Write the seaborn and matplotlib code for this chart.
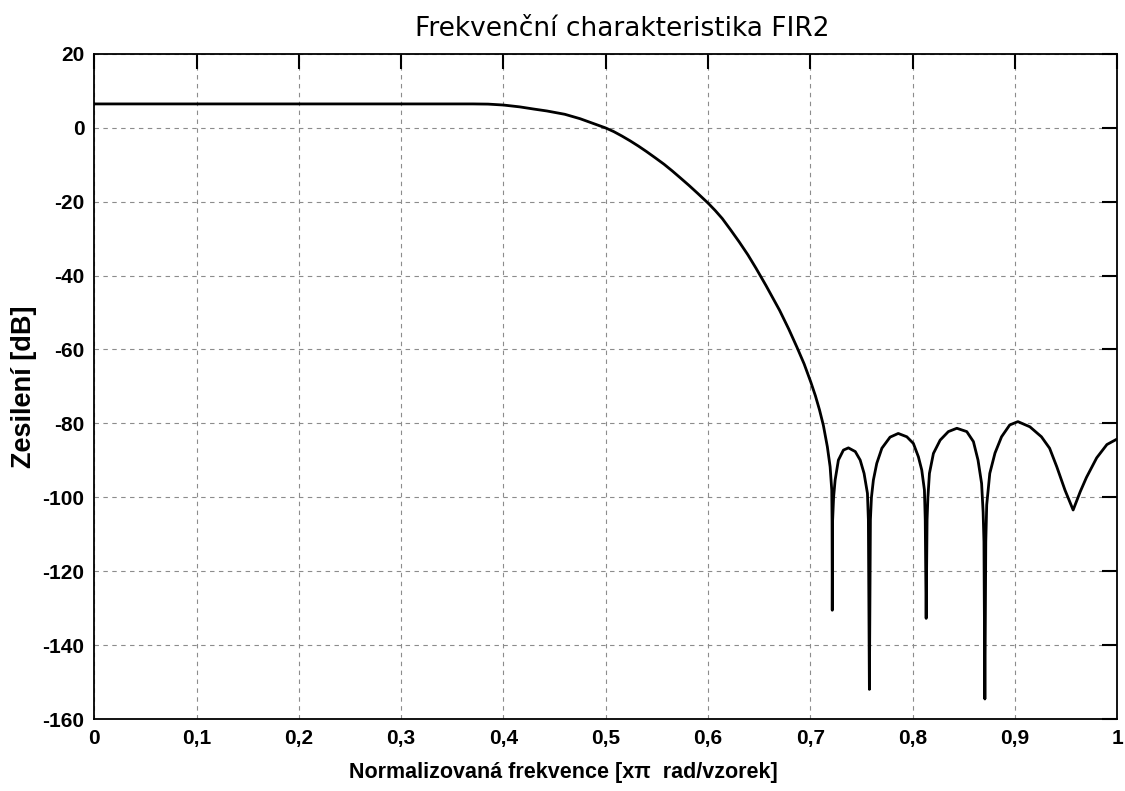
import pandas as pd
import seaborn as sns
import matplotlib.pyplot as plt

# frequency response (normalized freq, gain in dB)
freq = [0.0, 0.1, 0.2, 0.3, 0.37, 0.385, 0.40, 0.416, 0.43, 0.4424,
        0.46, 0.475, 0.483, 0.49, 0.5, 0.508, 0.516, 0.524, 0.532, 0.54,
        0.5486, 0.557, 0.565, 0.573, 0.5813, 0.59, 0.6, 0.607, 0.614, 0.622,
        0.6305, 0.639, 0.6469, 0.6567, 0.670, 0.679, 0.687, 0.694, 0.7005, 0.705,
        0.709, 0.7128, 0.7167, 0.7194, 0.721, 0.7213,
        0.7215, 0.7218, 0.7228, 0.7243, 0.7275, 0.7324, 0.7373, 0.744, 0.7488, 0.7526,
        0.7559, 0.7568, 0.7578, 0.7588, 0.7598, 0.7617, 0.765, 0.770, 0.778, 0.786,
        0.7944, 0.8008, 0.8057, 0.809, 0.8116, 0.8124, 0.8133, 0.8142, 0.815, 0.8165,
        0.8204, 0.827, 0.835, 0.8433, 0.853, 0.8595, 0.864, 0.8675, 0.869, 0.8698,
        0.8707, 0.8716, 0.8725, 0.8755, 0.8806, 0.887, 0.895, 0.903, 0.9147, 0.926,
        0.934, 0.941, 0.949, 0.957, 0.964, 0.970, 0.980, 0.990, 1.0]
gain_db = [6.4, 6.4, 6.4, 6.4, 6.4, 6.35, 6.1, 5.6, 5.0, 4.5,
           3.6, 2.4, 1.6, 0.9, -0.1, -1.1, -2.3, -3.6, -5.0, -6.5,
           -8.2, -9.9, -11.7, -13.6, -15.6, -17.8, -20.4, -22.4, -24.6, -27.6,
           -30.9, -34.4, -38.0, -42.7, -49.4, -54.5, -59.4, -63.9, -68.8, -72.5,
           -76.3, -80.5, -86.3, -91.7, -98.0, -106.5,
           -130.5, -106.5, -100.0, -95.3, -89.9, -87.2, -86.6, -87.6, -89.9, -93.5,
           -98.9, -106.0, -151.9, -106.0, -100.0, -95.3, -90.8, -86.7, -83.7, -82.7,
           -83.6, -85.4, -89.0, -92.6, -98.0, -106.0, -132.7, -106.0, -100.0, -93.5,
           -88.1, -84.5, -82.2, -81.3, -82.2, -84.9, -89.9, -96.2, -104.0, -112.0,
           -154.5, -112.0, -102.0, -93.5, -88.0, -83.6, -80.4, -79.5, -80.9, -83.6,
           -86.7, -91.7, -98.0, -103.4, -98.4, -94.6, -89.3, -85.7, -84.2]

xticks = [0, 0.1, 0.2, 0.3, 0.4, 0.5, 0.6, 0.7, 0.8, 0.9, 1.0]
xtick_labels = ['0', '0,1', '0,2', '0,3', '0,4', '0,5', '0,6', '0,7', '0,8', '0,9', '1']
yticks = [20, 0, -20, -40, -60, -80, -100, -120, -140, -160]

df = pd.DataFrame({'f': freq, 'dB': gain_db})

sns.set_style('white')
plt.rcParams['font.family'] = ['Liberation Sans', 'DejaVu Sans']
plt.rcParams['axes.unicode_minus'] = False
plt.rcParams['text.color'] = 'black'
plt.rcParams['axes.labelcolor'] = 'black'

fig, ax = plt.subplots(figsize=(11.25, 7.91), dpi=100)
fig.subplots_adjust(left=0.0838, right=0.993, top=0.9322, bottom=0.0906)

sns.lineplot(data=df, x='f', y='dB', color='black', linewidth=2.0, ax=ax, sort=False)

ax.set_xlim(0, 1)
ax.set_ylim(-160, 20)
ax.set_xticks(xticks)
ax.set_xticklabels(xtick_labels)
ax.set_yticks(yticks)

ax.grid(True, color='#8c8c8c', linestyle=(0, (4, 4)), linewidth=0.8)
for s in ax.spines.values():
    s.set_color('black')
    s.set_linewidth(1.3)

ax.tick_params(direction='in', length=11, width=1.5, top=True, right=True,
               labelsize=15, pad=7, colors='black')
for lab in ax.get_xticklabels() + ax.get_yticklabels():
    lab.set_fontweight('bold')

ax.set_title('Frekvenční charakteristika FIR2', fontsize=19, family='DejaVu Sans',
             pad=13, x=0.516, color='black')
ax.set_xlabel('Normalizovaná frekvence [xπ  rad/vzorek]', fontsize=15.5, fontweight='bold')
ax.set_ylabel('Zesilení [dB]', fontsize=19.5, fontweight='bold')
ax.xaxis.set_label_coords(0.459, -0.064)
ax.yaxis.set_label_coords(-0.056, 0.5)

plt.savefig('out.png', dpi=100)
plt.close()
